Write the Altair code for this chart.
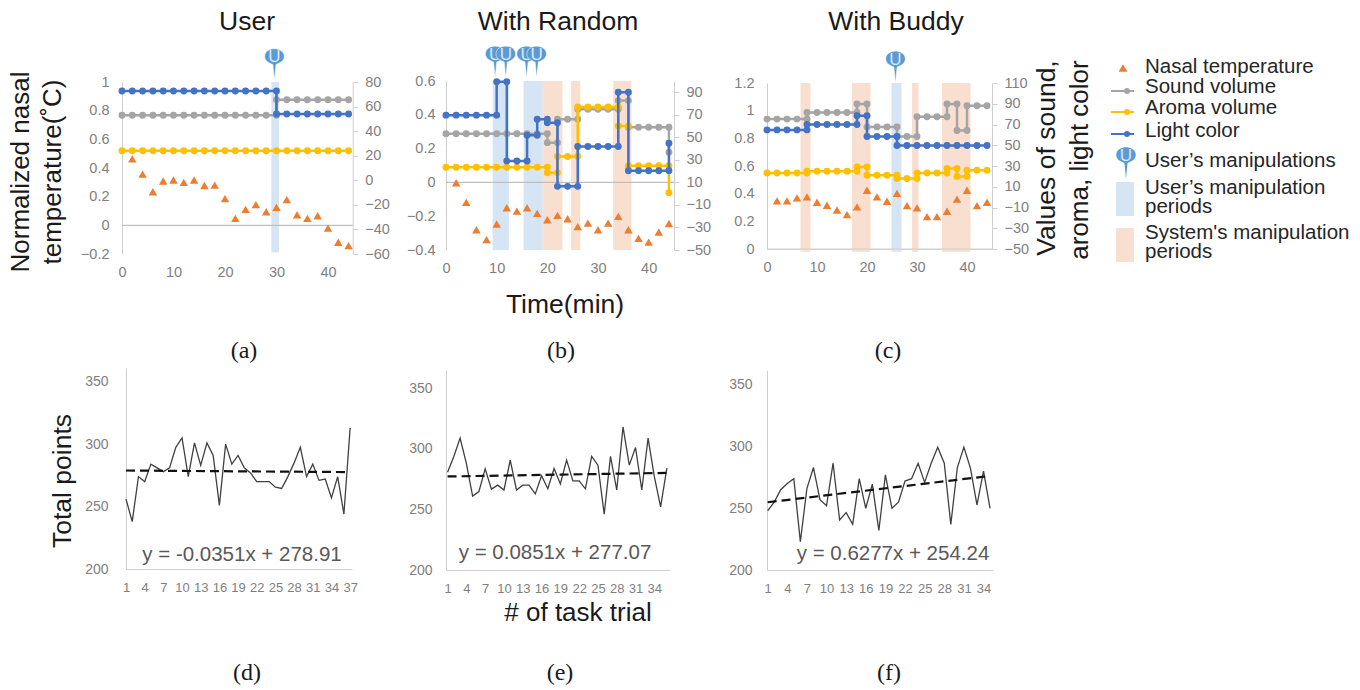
import altair as alt
import pandas as pd

W, H, M = 1344, 680, 8
FONT = "Liberation Sans"
AXC = "#cfcfcf"
LBL = "#7f7f7f"
GRAY, YEL, BLUE, ORG = "#a5a5a5", "#ffc000", "#4472c4", "#ed7d31"
BAND_U, BAND_S = "#d5e5f4", "#f8dfcf"
PIN = "#5b9bd5"
PIN_PATH = ("M-0.62,-0.5 C-0.62,-0.85 -0.3,-1 0,-1 C0.3,-1 0.62,-0.85 0.62,-0.5 "
            "C0.62,-0.2 0.25,-0.05 0.1,0 L0,1 L-0.1,0 C-0.25,-0.05 -0.62,-0.2 -0.62,-0.5 Z")

# Nasal temperature samples (every 2 min from minute 2)
TEMP_MIN = [2, 4, 6, 8, 10, 12, 14, 16, 18, 20, 22, 24, 26, 28, 30, 32, 34, 36, 38, 40, 42, 44]
TEMP_A = [.464, .357, .234, .309, .316, .30, .316, .278, .281, .186, .049, .111, .144, .095, .125, .179, .074, .049, .067, -.019, -.118, -.142]
TEMP_B = [-.002, -.118, -.28, -.339, -.246, -.15, -.17, -.15, -.183, -.221, -.195, -.215, -.262, -.241, -.28, -.241, -.201, -.28, -.331, -.353, -.294, -.243]
TEMP_C = [.348, .348, .37, .377, .338, .316, .282, .248, .304, .425, .377, .345, .402, .314, .297, .234, .234, .273, .36, .425, .314, .338]

# Held settings: (from minute, to minute, value)
SOUND_A = [(0, 30, 53), (30, 44, 65.6)]
AROMA_A = [(0, 44, 24)]
LIGHT_A = [(0, 30, 72.7), (30, 44, 54)]
SOUND_B = [(0, 20, 53.2), (20, 22, 45.3), (22, 26, 66), (26, 34, 75), (34, 36, 82.6), (36, 44, 59), (44, 44, 36.8)]
AROMA_B = [(0, 20, 23.5), (20, 22, 18.5), (22, 26, 33), (26, 34, 77), (34, 36, 60), (36, 44, 24.7), (44, 44, 0.9)]
LIGHT_B = [(0, 10, 69.7), (10, 12, 99.4), (12, 16, 29), (16, 18, 51.8), (18, 20, 66), (20, 22, 63), (22, 26, 6.5), (26, 34, 41.8), (34, 36, 90), (36, 44, 20.3), (44, 44, 44.7)]
SOUND_C = [(0, 8, 75.2), (8, 18, 81.6), (18, 20, 89.7), (20, 26, 67.7), (26, 30, 58.4), (30, 36, 77.4), (36, 38, 89.7), (38, 40, 64.2), (40, 44, 88)]
AROMA_C = [(0, 8, 23.2), (8, 18, 25), (18, 20, 29), (20, 26, 21), (26, 30, 18), (30, 36, 23.2), (36, 38, 27.7), (38, 40, 20), (40, 44, 26)]
LIGHT_C = [(0, 8, 64.8), (8, 18, 70), (18, 20, 78.4), (20, 26, 58.4), (26, 44, 49.7)]

BANDS_USER_A = [(29, 30.5)]
BANDS_USER_B = [(9.2, 12.4), (15.3, 19.1)]
BANDS_SYS_B = [(19.1, 23), (24.7, 26.5), (33, 36.6)]
BANDS_USER_C = [(24.9, 26.9)]
BANDS_SYS_C = [(6.7, 8.7), (17, 20.7), (29, 30.3), (35, 40.7)]
PINS_A = [29.6]
PINS_B = [9.7, 11.8, 15.9, 17.9]
PINS_C = [25.7]

# Task trial totals
POINTS_D = [256, 238, 274, 270, 284, 281, 278, 281, 297.5, 305, 274, 301, 283, 301, 291, 251, 300, 284, 291, 281, 277, 270, 270, 270, 265.5, 264.5, 274, 285, 297.5, 274, 284, 271, 272, 257, 274, 244, 313]
POINTS_E = [280.7, 293.7, 308.8, 288, 261, 264.7, 283.5, 266.7, 270, 266, 290.6, 266, 270, 270, 262.8, 277.7, 267, 283.7, 271, 290.6, 273.5, 273.5, 267, 293.7, 286.5, 246, 293.7, 266, 318, 286.5, 301, 266, 308.8, 277, 252, 284]
POINTS_F = [248, 255, 265, 270, 274, 223, 266, 283, 257, 252, 286.5, 240.5, 246.5, 237, 274, 250, 269.5, 232, 277, 250, 255, 272, 274, 286.5, 271, 286.5, 299.5, 286.5, 237, 283, 299.5, 282.5, 252.7, 280, 250]
TREND_D = [(1, 278.88), (37, 277.61)]
TREND_E = [(1, 277.16), (36, 280.13)]
TREND_F = [(1, 254.87), (35, 276.21)]

TOP_XTICKS = [0, 10, 20, 30, 40]


def steps(segments):
    rows = []
    for start, end, val in segments:
        m = start
        while m <= end:
            rows.append((m, val))
            m += 2
    return pd.DataFrame({"x": [r[0] for r in rows], "v": [r[1] for r in rows], "i": list(range(len(rows)))})


def top_panel(x0, x1, y_top, y_bot, xmax, ld, lv, rd, rv, lpad, temp, sound, aroma, light, uband, sband, pins,
              pin_y, head_y, band_lo, band_hi, zero_rule):
    sx = alt.Scale(domain=[0, xmax], range=[x0 - M, x1 - M], nice=False, zero=False)
    sl = alt.Scale(domain=ld, range=[y_bot - M, y_top - M], nice=False, zero=False)
    sr = alt.Scale(domain=rd, range=[y_bot - M, y_top - M], nice=False, zero=False)
    X = alt.X("x:Q", scale=sx, axis=None)
    layers = []
    for bands, colr in ((uband, BAND_U), (sband, BAND_S)):
        if bands:
            df = pd.DataFrame({"x": [b[0] for b in bands], "x1": [b[1] for b in bands],
                               "lo": [band_lo] * len(bands), "hi": [band_hi] * len(bands)})
            layers.append(alt.Chart(df).mark_rect(color=colr).encode(
                x=X, x2="x1:Q", y=alt.Y("lo:Q", scale=sl, axis=None), y2="hi:Q"))
    xaxis = alt.Axis(orient="bottom", offset=y_bot - M - H, values=TOP_XTICKS, domain=not zero_rule,
                     domainColor=AXC, ticks=False, labelColor=LBL, labelFont=FONT, labelFontSize=14.5,
                     labelPadding=11, title=None, grid=False, format="d", labelOverlap=False, labelFlush=False)
    zero = pd.DataFrame({"x": [0], "x1": [xmax], "v": [0]})
    rule = alt.Chart(zero).mark_rule(color="#bfbfbf" if zero_rule else AXC, strokeWidth=1.2).encode(
        x=alt.X("x:Q", scale=sx, axis=xaxis), x2="x1:Q",
        y=alt.Y("v:Q", scale=sl, axis=alt.Axis(
            orient="left", offset=-(x0 - M), values=lv, domainColor=AXC, ticks=False, labelColor=LBL,
            labelFont=FONT, labelFontSize=14.5, labelPadding=lpad, title=None, grid=False, format="~g",
            labelOverlap=False, labelFlush=False)))
    layers.append(rule)
    first = True
    for seg, colr in ((sound, GRAY), (aroma, YEL), (light, BLUE)):
        df = steps(seg)
        yaxis = alt.Axis(orient="right", offset=x1 - M - W, values=rv, domainColor=AXC, tickColor=AXC,
                         tickSize=5, labelColor=LBL, labelFont=FONT, labelFontSize=14.5, labelPadding=7,
                         title=None, grid=False, labelOverlap=False, labelFlush=False) if first else None
        first = False
        layers.append(alt.Chart(df).mark_line(color=colr, strokeWidth=2.5).encode(
            x=X, y=alt.Y("v:Q", scale=sr, axis=yaxis), order=alt.Order("i:Q")))
        layers.append(alt.Chart(df).mark_circle(color=colr, size=48, opacity=1).encode(
            x=X, y=alt.Y("v:Q", scale=sr, axis=None)))
    tdf = pd.DataFrame({"x": TEMP_MIN, "v": temp})
    layers.append(alt.Chart(tdf).mark_point(shape="triangle-up", filled=True, color=ORG, size=72, opacity=1).encode(
        x=X, y=alt.Y("v:Q", scale=sl, axis=None)))
    pdf = pd.DataFrame({"x": pins, "u": ["U"] * len(pins)})
    for k in range(len(pins)):
        one = pdf.iloc[[k]]
        layers.append(alt.Chart(one).mark_point(shape=PIN_PATH, filled=True, color=PIN, size=1000, opacity=1,
                                                stroke="white", strokeWidth=0.5).encode(
            x=X, y=alt.value(pin_y - M)))
        layers.append(alt.Chart(one).mark_text(font=FONT, fontSize=17, color="#dbe8f5", baseline="middle").encode(
            x=X, y=alt.value(head_y - M), text="u:N"))
    return layers


def bottom_panel(x0, x1, y_top, y_bot, xd, yd, lpad, xt, points, trend):
    sx = alt.Scale(domain=xd, range=[x0 - M, x1 - M], nice=False, zero=False)
    sy = alt.Scale(domain=yd, range=[y_bot - M, y_top - M], nice=False, zero=False)
    df = pd.DataFrame({"x": list(range(1, len(points) + 1)), "v": points})
    line = alt.Chart(df).mark_line(color="#404040", strokeWidth=1.3).encode(
        x=alt.X("x:Q", scale=sx, axis=alt.Axis(
            orient="bottom", offset=y_bot - M - H, values=xt, domainColor=AXC, ticks=False, labelColor=LBL,
            labelFont=FONT, labelFontSize=13, labelPadding=12, title=None, grid=False, format="d",
            labelOverlap=False, labelFlush=False)),
        y=alt.Y("v:Q", scale=sy, axis=alt.Axis(
            orient="left", offset=-(x0 - M), values=[200, 250, 300, 350], domainColor=AXC, ticks=False,
            labelColor=LBL, labelFont=FONT, labelFontSize=14, labelPadding=lpad, title=None, grid=False,
            labelOverlap=False, labelFlush=False)))
    tdf = pd.DataFrame({"x": [t[0] for t in trend], "v": [t[1] for t in trend]})
    dash = alt.Chart(tdf).mark_line(color="#111111", strokeWidth=2.2, strokeDash=[9, 5]).encode(
        x=alt.X("x:Q", scale=sx, axis=None), y=alt.Y("v:Q", scale=sy, axis=None))
    return [line, dash]


def label(text, x, y, size=26, colr="#1a1a1a", angle=None, font=FONT, align="center"):
    kw = dict(font=font, fontSize=size, color=colr, baseline="middle", align=align)
    if angle is not None:
        kw["angle"] = angle
    return alt.Chart(pd.DataFrame({"t": [text]})).mark_text(**kw).encode(
        x=alt.value(x - M), y=alt.value(y - M), text="t:N")


layers = []
layers += top_panel(122, 352.7, 82, 254, 44.8, [-0.2, 1], [-0.2, 0, 0.2, 0.4, 0.6, 0.8, 1],
                    [-60, 80], [-60, -40, -20, 0, 20, 40, 60, 80], 13, TEMP_A, SOUND_A, AROMA_A, LIGHT_A,
                    BANDS_USER_A, [], PINS_A, 64.5, 57, -0.19, 1.0, True)
layers += top_panel(446, 674, 81, 250, 45, [-0.4, 0.6], [-0.4, -0.2, 0, 0.2, 0.4, 0.6],
                    [-50, 100], [-50, -30, -10, 10, 30, 50, 70, 90], 11, TEMP_B, SOUND_B, AROMA_B, LIGHT_B,
                    BANDS_USER_B, BANDS_SYS_B, PINS_B, 62, 55, -0.4, 0.6, True)
layers += top_panel(767, 992, 83, 249, 45, [0, 1.2], [0, 0.2, 0.4, 0.6, 0.8, 1, 1.2],
                    [-50, 110], [-50, -30, -10, 10, 30, 50, 70, 90, 110], 13, TEMP_C, SOUND_C, AROMA_C, LIGHT_C,
                    BANDS_USER_C, BANDS_SYS_C, PINS_C, 67, 60, -0.02, 1.2, False)

layers += bottom_panel(126, 352, 368, 569, [1, 37.3], [200, 361], 18,
                       [1, 4, 7, 10, 13, 16, 19, 22, 25, 28, 31, 34, 37], POINTS_D, TREND_D)
layers += bottom_panel(446, 670, 370, 570, [0.75, 36.5], [200, 365], 14,
                       [1, 4, 7, 10, 13, 16, 19, 22, 25, 28, 31, 34], POINTS_E, TREND_E)
layers += bottom_panel(767, 993, 370, 570, [0.9, 35.45], [200, 362], 15,
                       [1, 4, 7, 10, 13, 16, 19, 22, 25, 28, 31, 34], POINTS_F, TREND_F)

# Titles and annotations
layers += [
    label("User", 247, 22, size=26.5), label("With Random", 558, 22, size=26.5), label("With Buddy", 896, 22, size=26.5),
    label("Time(min)", 565, 305, size=26.5), label("# of task trial", 578, 613),
    label("Normalized nasal", 21, 172, angle=270), label("temperature(˚C)", 53, 172, angle=270),
    label("Total points", 63, 481, size=26.5, angle=270),
    label("Values of sound,", 1047, 158, size=26.5, angle=270), label("aroma,  light color", 1080, 160, angle=270),
    label("y = -0.0351x + 278.91", 242, 555, size=20.5, colr="#595959"),
    label("y = 0.0851x + 277.07", 555, 553, size=20.5, colr="#595959"),
    label("y = 0.6277x + 254.24", 893, 554, size=20.5, colr="#595959"),
]
for t, x, y in (("(a)", 244, 351), ("(b)", 561, 351), ("(c)", 888, 351),
                ("(d)", 247, 673), ("(e)", 560, 673), ("(f)", 889, 673)):
    layers.append(label(t, x, y, size=24, font="Liberation Serif"))

# Hand-built legend
for t, y in (("Nasal temperature", 67), ("Sound volume", 87), ("Aroma volume", 108), ("Light color", 131),
             ("User’s manipulations", 161), ("User’s manipulation", 188), ("periods", 207),
             ("System's manipulation", 233), ("periods", 252)):
    layers.append(label(t, 1145, y, size=20.5, colr="#262626", align="left"))
one = pd.DataFrame({"a": [1]})
layers.append(alt.Chart(one).mark_point(shape="triangle-up", filled=True, color=ORG, size=80, opacity=1).encode(
    x=alt.value(1123 - M), y=alt.value(68 - M)))
for colr, y in ((GRAY, 91), (YEL, 112), (BLUE, 134)):
    layers.append(alt.Chart(one).mark_rule(color=colr, strokeWidth=2).encode(
        x=alt.value(1111 - M), x2=alt.value(1134 - M), y=alt.value(y - M)))
    layers.append(alt.Chart(one).mark_circle(color=colr, size=36, opacity=1).encode(
        x=alt.value(1127 - M), y=alt.value(y - M)))
layers.append(alt.Chart(one).mark_point(shape=PIN_PATH, filled=True, color=PIN, size=1000, opacity=1).encode(
    x=alt.value(1126 - M), y=alt.value(163 - M)))
layers.append(label("U", 1126, 156, size=17, colr="#dbe8f5"))
for colr, y0, y1 in ((BAND_U, 182, 216), (BAND_S, 228, 262)):
    layers.append(alt.Chart(one).mark_rect(color=colr).encode(
        x=alt.value(1116 - M), x2=alt.value(1134 - M), y=alt.value(y0 - M), y2=alt.value(y1 - M)))

chart = alt.layer(*layers).resolve_scale(x="independent", y="independent").properties(
    width=W, height=H, padding=0, autosize=alt.AutoSizeParams(type="none"),
    background="white").configure_view(stroke=None)

chart.save("out.html", embed_options={"renderer": "svg", "actions": False})
